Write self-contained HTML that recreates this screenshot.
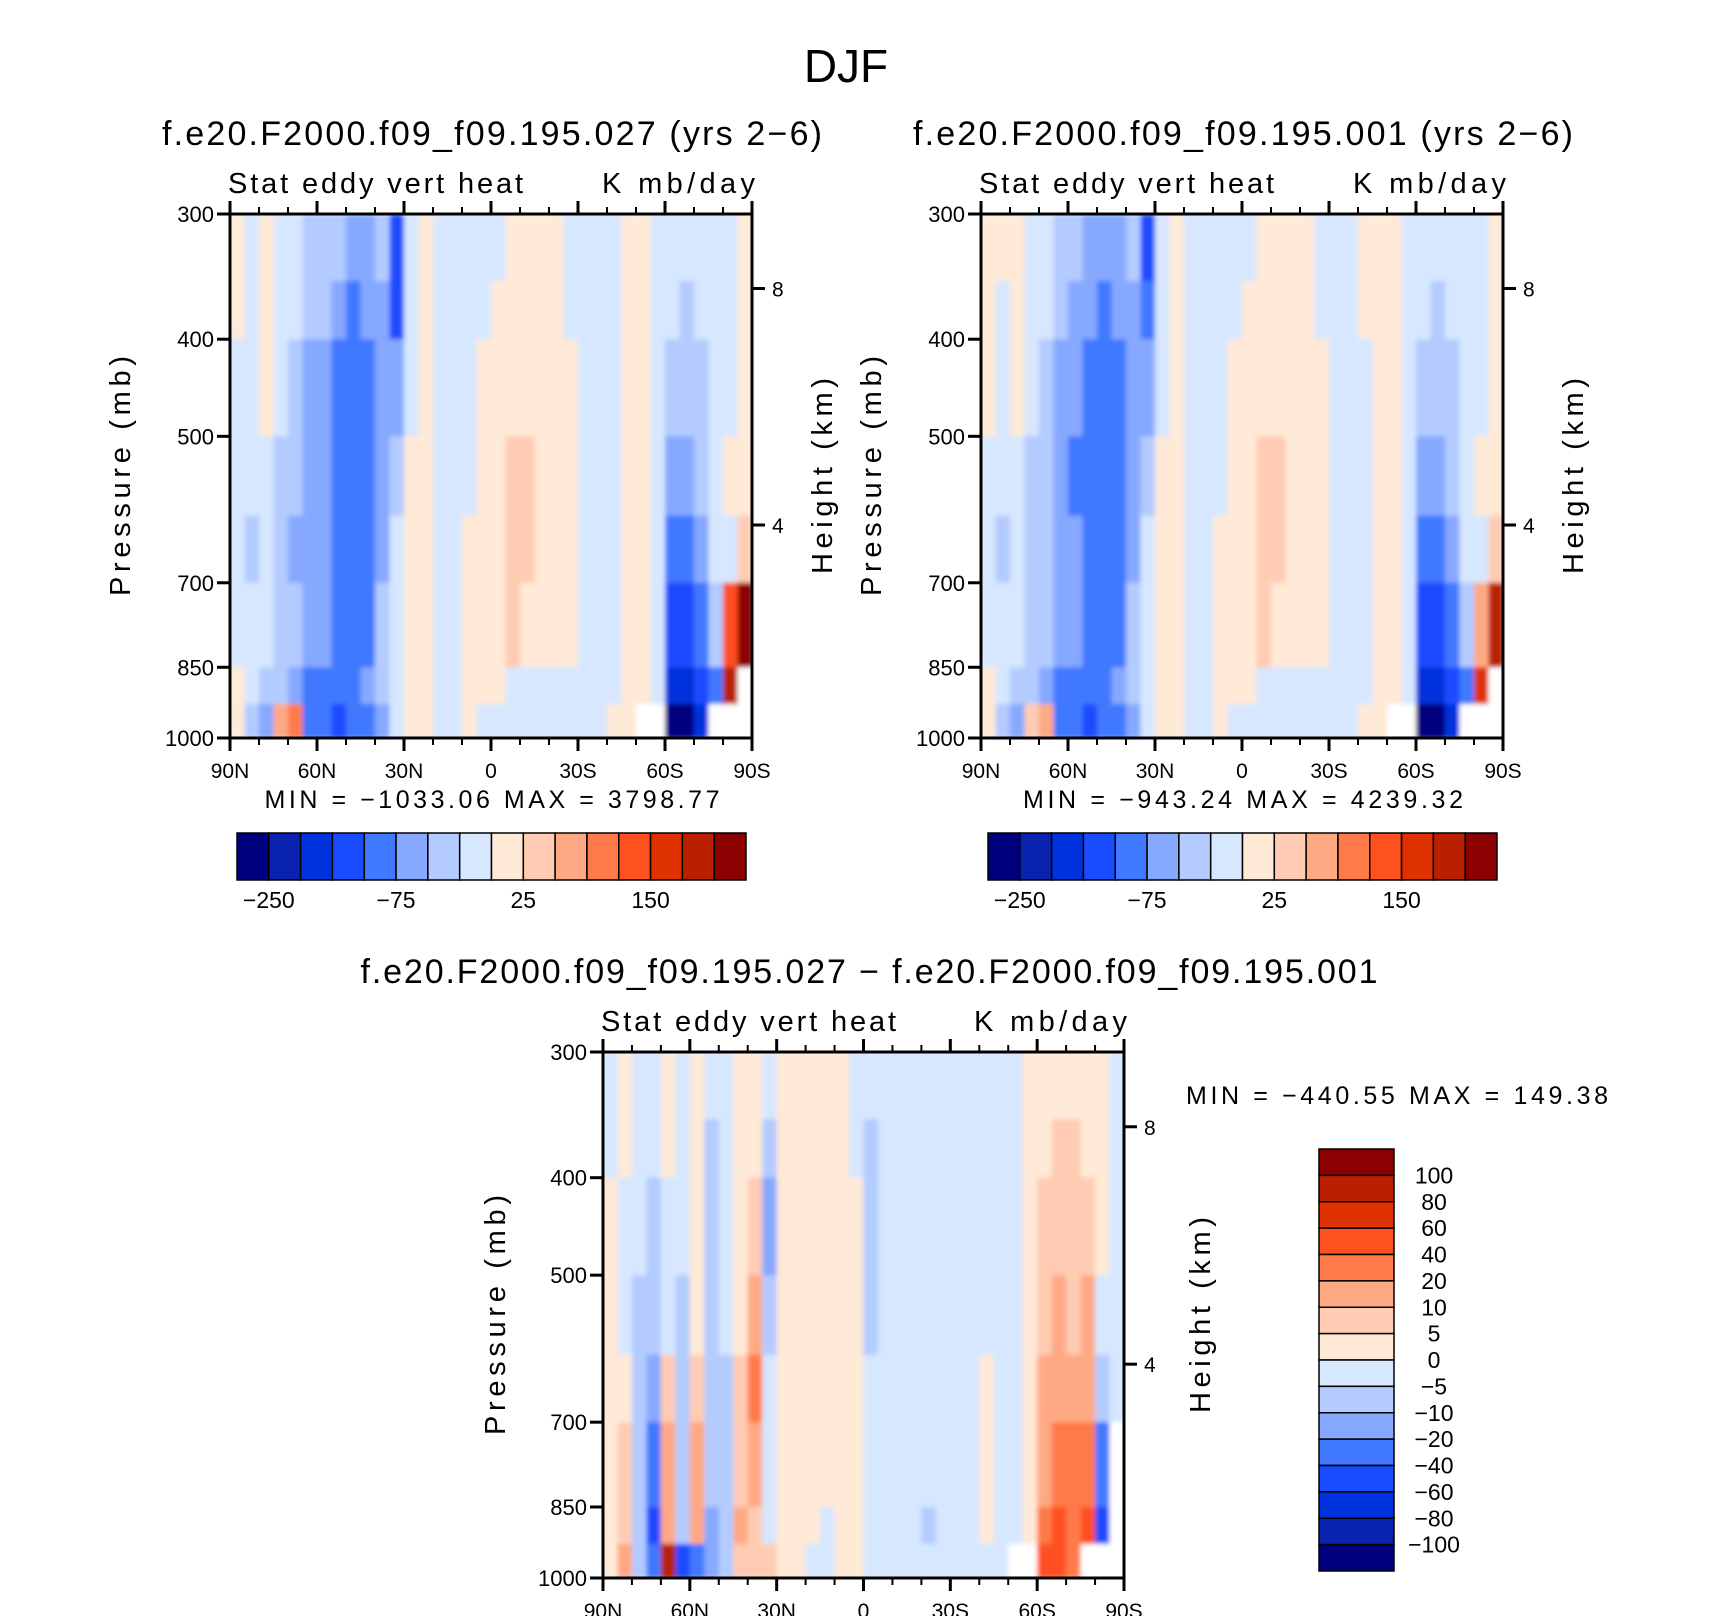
<!DOCTYPE html>
<html><head><meta charset="utf-8"><style>
html,body{margin:0;padding:0;background:#fff;}
svg{display:block;font-family:"Liberation Sans",sans-serif;}
</style></head><body>
<svg id="fig" width="1710" height="1616" viewBox="0 0 1710 1616" xmlns="http://www.w3.org/2000/svg">
<defs><filter id="soft" x="0" y="0" width="1" height="1"><feGaussianBlur stdDeviation="2.5"/></filter></defs>
<text x="846" y="82" font-size="46" text-anchor="middle" fill="#000">DJF</text>
</svg>
<script>
// ---- data ----
const latLabels = ["90N","60N","30N","0","30S","60S","90S"];
const pressureTicks = [300,400,500,700,850,1000];
const levelEdges = [300,350,400,500,600,700,850,925,1000];
const heightLabels = ["8","4"];
const heightPressures = [356,613];
const absLevels = [-250,-200,-150,-100,-75,-50,-25,0,25,50,75,100,150,200,250];
const absBarLabels = ["-250","-75","25","150"];
const diffLevels = [-100,-80,-60,-40,-20,-10,-5,0,5,10,20,40,60,80,100];
const diffBarLabels = ["100","80","60","40","20","10","5","0","-5","-10","-20","-40","-60","-80","-100"];
const palette = ["#00007f","#0a22b0","#0033dd","#1a4cff","#4078ff","#86a8ff","#b3cbff","#d6e7ff","#ffe9d7","#ffccb3","#ffa984","#ff7a48","#ff5020","#e03200","#b82000","#8b0000"];
// field values: 36 latitude bins (90N→90S), 8 pressure bands (300→1000)
const fieldA = [
[10,5,-5,-5,-10,-10,5,10],[-5,-10,-20,-20,-30,-20,-20,-30],[10,10,5,-5,-10,-20,-30,-60],[-10,-10,-20,-30,-40,-30,-40,50],
[-20,-20,-40,-50,-60,-50,-60,80],[-30,-40,-60,-60,-60,-70,-80,-100],[-40,-50,-70,-70,-60,-60,-80,-80],[-50,-60,-80,-80,-80,-90,-80,-120],
[-60,-80,-90,-90,-90,-90,-80,-100],[-60,-70,-90,-90,-90,-80,-70,-80],[-50,-60,-60,-70,-60,-50,-40,-60],[-120,-110,-60,-30,-20,-20,-20,-20],
[-20,-10,-5,5,10,10,5,5],[10,10,10,5,5,5,5,5],[-5,-5,-5,-5,-5,-5,-5,-5],[-5,-5,-5,-5,-5,-5,-5,-5],
[-5,-5,-5,-5,5,10,5,5],[-5,-5,10,10,10,10,10,-5],[-5,10,15,20,20,15,10,-5],[5,10,20,30,35,25,-5,-5],
[5,10,20,30,30,20,-20,-10],[10,10,15,20,20,10,-5,-5],[10,10,10,10,10,5,-20,-5],[-5,-5,5,5,5,5,-5,-5],
[-5,-5,-5,-5,-5,-5,-5,-5],[-5,-5,-5,-5,-5,-5,-5,-5],[-5,-5,-5,-5,-5,-5,-5,5],[5,5,5,5,5,5,10,5],
[10,10,10,10,10,10,5,null],[-5,-5,-5,-5,-5,-5,-10,null],[-10,-20,-40,-60,-80,-110,-160,-300],[-20,-30,-50,-70,-100,-130,-180,-300],
[-10,-20,-30,-40,-60,-80,-120,-200],[-5,-5,-10,-10,-20,-40,-80,null],[-5,-5,-5,10,-5,100,200,null],[5,5,5,10,40,260,null,null]];
const fieldB = [
[10,5,5,-5,-5,-10,5,10],[5,-10,-20,-20,-30,-20,-20,-30],[10,10,5,-5,-10,-20,-30,-60],[-10,-10,-20,-30,-40,-30,-40,40],
[-5,-20,-30,-40,-50,-50,-60,60],[-30,-40,-60,-60,-60,-70,-80,-100],[-50,-60,-70,-80,-70,-70,-80,-90],[-60,-70,-80,-90,-90,-90,-90,-120],
[-60,-80,-90,-90,-90,-90,-80,-100],[-60,-70,-80,-90,-90,-80,-70,-80],[-50,-60,-60,-60,-60,-50,-40,-60],[-110,-100,-60,-30,-20,-20,-20,-20],
[-20,-10,-5,5,5,5,5,5],[10,10,10,5,5,5,5,5],[-5,-20,-20,-5,-5,-5,-5,-5],[-5,-5,-5,-5,-5,-5,-5,-5],
[-5,-5,-5,-5,5,10,5,5],[-5,-5,10,10,10,10,10,-5],[-5,10,15,20,20,15,10,-5],[5,10,20,30,35,25,-5,-5],
[5,10,20,30,30,20,-5,-10],[10,10,15,20,20,10,-5,-5],[10,10,10,10,10,5,-5,-5],[-5,-5,5,5,5,5,-5,-5],
[-5,-5,-5,-5,-5,-5,-5,-5],[-5,-5,-5,-5,-5,-5,-5,-5],[5,5,-5,-5,-5,-5,-5,5],[5,5,5,5,5,5,10,5],
[10,10,10,10,10,10,5,null],[-5,-5,-5,-5,-5,-5,-10,null],[-10,-20,-40,-60,-80,-110,-160,-300],[-20,-30,-50,-70,-100,-130,-180,-300],
[-10,-20,-30,-40,-60,-80,-120,-200],[-5,-5,-10,-10,-20,-40,-80,null],[-5,-5,-5,10,-5,60,150,null],[5,5,5,10,30,200,null,null]];
const fieldC = [
[-3,-3,2,2,2,3,3,3],[2,2,-3,-3,3,5,8,12],[-3,-3,-3,-8,-8,-8,-8,-8],[-3,-3,-8,-8,-15,-30,-50,-30],
[2,3,-3,-3,8,12,15,80],[-3,-3,-3,-8,-8,-8,-8,-50],[2,2,3,3,8,15,12,-30],[-3,-8,-8,-8,-8,-8,-15,-20],
[-3,-3,-3,-3,-8,-8,-8,-8],[2,2,3,3,8,8,12,8],[2,3,8,15,25,12,8,5],[-3,-8,-12,-8,-3,-3,-3,8],
[3,3,3,3,3,3,3,3],[3,3,3,3,3,3,3,3],[3,3,3,3,3,3,3,-3],[3,3,3,3,3,3,-3,-3],
[3,3,3,3,3,3,3,3],[-3,-3,3,3,3,3,3,3],[-3,-8,-8,-8,-3,-3,-3,-3],[-3,-3,-3,-3,-3,-3,-3,-3],
[-3,-3,-3,-3,-3,-3,-3,-3],[-3,-3,-3,-3,-3,-3,-3,-3],[-3,-3,-3,-3,-3,-3,-8,-3],[-3,-3,-3,-3,-3,-3,-3,-3],
[-3,-3,-3,-3,-3,-3,-3,-3],[-3,-3,-3,-3,-3,-3,-3,-3],[-3,-3,-3,-3,3,3,3,-3],[-3,-3,-3,-3,-3,-3,-3,-3],
[-3,-3,-3,-3,-3,-3,-3,null],[2,2,3,3,3,3,3,null],[3,3,5,8,12,15,30,40],[3,5,8,12,15,20,40,50],
[3,5,8,8,12,20,30,30],[3,3,8,12,15,25,40,null],[2,3,3,-3,-8,-30,-60,null],[-3,-3,-3,-3,-3,null,null,null]];

const NS="http://www.w3.org/2000/svg";
const svg=document.getElementById('fig');
function el(tag,attrs,parent){const e=document.createElementNS(NS,tag);for(const k in attrs)e.setAttribute(k,attrs[k]);(parent||svg).appendChild(e);return e;}
function txt(s,attrs,parent){const e=el('text',attrs,parent);e.textContent=s.replace(/-/g,'\u2212');return e;}
function colorFor(v,levels){if(v===null)return null;let i=0;while(i<levels.length&&v>=levels[i])i++;return palette[i];}

function panel(cfg){
  const g=el('g',{});
  
  
  const {x0,x1,y0,y1}=cfg;
  const yOf=p=>y0+(Math.log(p)-Math.log(300))/(Math.log(1000)-Math.log(300))*(y1-y0);
  const nb=cfg.data.length;const xOf=i=>x0+i*(x1-x0)/nb;
  const cells=el('g',{filter:'url(#soft)'},g);
  
  
  cfg.data.forEach((col,i)=>{col.forEach((v,k)=>{const c=colorFor(v,cfg.levels)||'#ffffff';
    const r=el('rect',{x:xOf(i),y:yOf(levelEdges[k]),width:(x1-x0)/nb+0.6,height:yOf(levelEdges[k+1])-yOf(levelEdges[k])+0.6,fill:c},cells);
    
    });});
  const fr=el('rect',{x:x0,y:y0,width:x1-x0,height:y1-y0,fill:'none',stroke:'#000','stroke-width':3},g);
  
  
  for(let d=0;d<=180;d+=10){const x=x0+d/180*(x1-x0);const maj=d%30===0;const L=maj?13:7;
    el('line',{x1:x,y1:y1,x2:x,y2:y1+L,stroke:'#000','stroke-width':maj?3:2},g);
    el('line',{x1:x,y1:y0,x2:x,y2:y0-L,stroke:'#000','stroke-width':maj?3:2},g);}
  latLabels.forEach((s,i)=>{const t=txt(s,{x:x0+i/6*(x1-x0),y:y1+40,'font-size':21,'text-anchor':'middle'},g);
    
    });
  pressureTicks.forEach(p=>{const y=yOf(p);el('line',{x1:x0,y1:y,x2:x0-13,y2:y,stroke:'#000','stroke-width':3},g);
    const t=txt(String(p),{x:x0-16,y:y+8,'font-size':22,'text-anchor':'end'},g);
    
    });
  heightPressures.forEach((p,i)=>{const y=yOf(p);el('line',{x1:x1,y1:y,x2:x1+13,y2:y,stroke:'#000','stroke-width':3},g);
    const t=txt(heightLabels[i],{x:x1+20,y:y+8,'font-size':21},g);
    
    });
  const cy=(y0+y1)/2;
  const pl=txt('Pressure (mb)',{x:cfg.plx,y:cy,'font-size':29,'text-anchor':'middle',transform:`rotate(-90 ${cfg.plx} ${cy})`,textLength:240,lengthAdjust:'spacing'},g);
  
  
  const hl=txt('Height (km)',{x:cfg.hlx,y:cy,'font-size':29,'text-anchor':'middle',transform:`rotate(-90 ${cfg.hlx} ${cy})`,textLength:196,lengthAdjust:'spacing'},g);
  
  
  const lt=txt('Stat eddy vert heat',{x:x0-2,y:y0-21,'font-size':29,textLength:295,lengthAdjust:'spacing'},g);
  
  
  const rt=txt('K mb/day',{x:x1+3-153,y:y0-21,'font-size':29,textLength:153,lengthAdjust:'spacing'},g);
  
  
  const ti=txt(cfg.title,{x:cfg.tx-cfg.tw/2,y:y0-69,'font-size':34,textLength:cfg.tw,lengthAdjust:'spacing'},g);
  
  
  const mx=cfg.ma==='middle'?cfg.mx-cfg.mw/2:cfg.mx;
  const mm=txt(cfg.minmax,{x:mx,y:cfg.my,'font-size':25,textLength:cfg.mw,lengthAdjust:'spacing'},g);
  
  
}
function hbar(x0,x1,y0,y1,name){
  const g=el('g',{});
  
  
  const w=(x1-x0)/16;
  palette.forEach((c,i)=>{const r=el('rect',{x:x0+i*w,y:y0,width:w,height:y1-y0,fill:c,stroke:'#000','stroke-width':1.5},g);
    
    });
  absBarLabels.forEach((s,i)=>{const t=txt(s,{x:x0+(1+4*i)*w,y:y1+28,'font-size':23,'text-anchor':'middle'},g);
    
    });
}
function vbar(x0,x1,y0,y1){
  const g=el('g',{});
  
  
  const h=(y1-y0)/16;
  palette.slice().reverse().forEach((c,i)=>{const r=el('rect',{x:x0,y:y0+i*h,width:x1-x0,height:h,fill:c,stroke:'#000','stroke-width':1.5},g);
    
    });
  diffBarLabels.forEach((s,i)=>{const t=txt(s,{x:x1+40,y:y0+(i+1)*h+8,'font-size':23,'text-anchor':'middle'},g);
    
    });
}
panel({name:'panel-027',x0:230,x1:752,y0:214,y1:738,data:fieldA,levels:absLevels,plx:130,hlx:832,
  title:'f.e20.F2000.f09_f09.195.027 (yrs 2-6)',tx:492,tw:660,minmax:'MIN = -1033.06   MAX = 3798.77',mx:492,mw:455,my:808,ma:'middle'});
panel({name:'panel-001',x0:981,x1:1503,y0:214,y1:738,data:fieldB,levels:absLevels,plx:881,hlx:1583,
  title:'f.e20.F2000.f09_f09.195.001 (yrs 2-6)',tx:1243,tw:660,minmax:'MIN = -943.24   MAX = 4239.32',mx:1243,mw:440,my:808,ma:'middle'});
panel({name:'panel-difference',x0:603,x1:1124,y0:1052,y1:1578,data:fieldC,levels:diffLevels,plx:505,hlx:1210,
  title:'f.e20.F2000.f09_f09.195.027 - f.e20.F2000.f09_f09.195.001',tx:869,tw:1017,minmax:'MIN = -440.55   MAX = 149.38',mx:1186,mw:422,my:1104,ma:'start'});
hbar(237,746,833,880,'colorbar-027');
hbar(988,1497,833,880,'colorbar-001');
vbar(1319,1394,1149,1571);
</script>
</body></html>
